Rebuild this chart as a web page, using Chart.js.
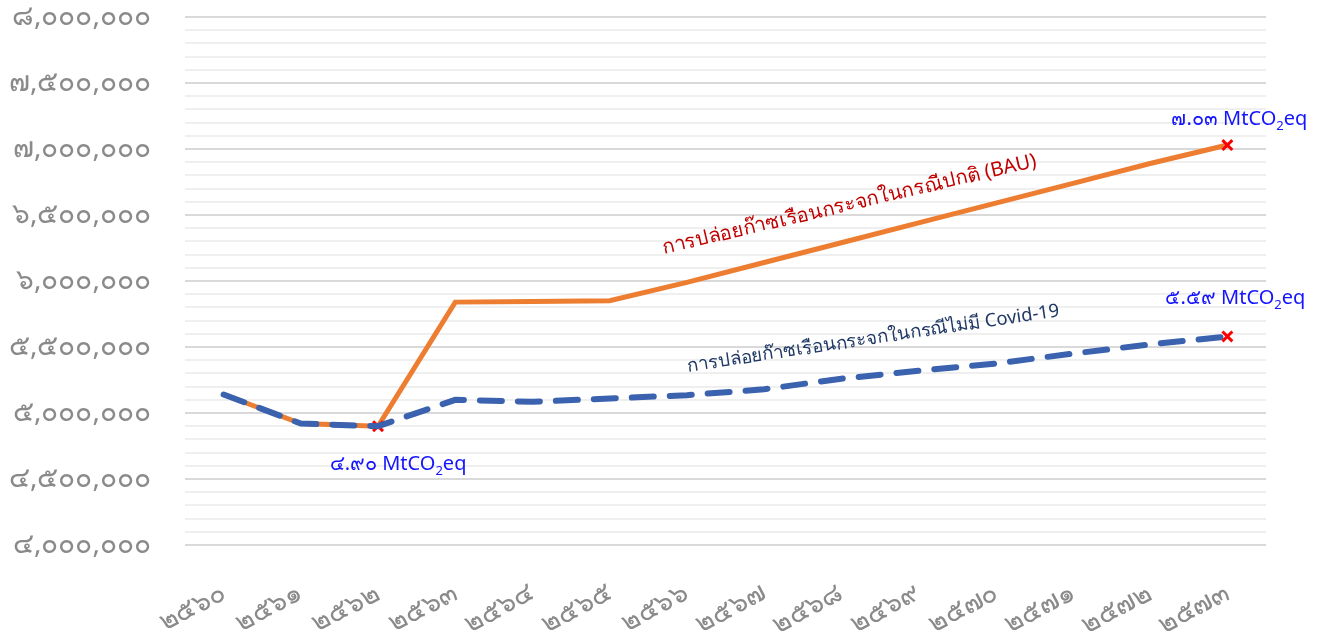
<!DOCTYPE html>
<html lang="th">
<head>
<meta charset="UTF-8">
<title>การปล่อยก๊าซเรือนกระจก</title>
<script src="https://cdn.jsdelivr.net/npm/chart.js"></script>
<style>
  html, body { margin: 0; padding: 0; background: #fff; }
  #wrap { width: 1324px; height: 631px; position: relative; }
</style>
</head>
<body>
<div id="wrap"><canvas id="chart"></canvas></div>
<script>
  // ปี พ.ศ.
  const years = [2560, 2561, 2562, 2563, 2564, 2565, 2566, 2567, 2568, 2569, 2570, 2571, 2572, 2573];
  // กรณีปกติ (BAU)
  const bauValues = [5140000, 4920000, 4900000, 5840000, 5845000, 5850000, 5990000, 6140000, 6290000, 6440000, 6590000, 6740000, 6890000, 7030000];
  // กรณีไม่มี Covid-19
  const noCovidValues = [5140000, 4920000, 4900000, 5100000, 5085000, 5110000, 5135000, 5180000, 5260000, 5320000, 5375000, 5450000, 5520000, 5580000];
  // จุดที่มีเครื่องหมาย x
  const bauMarks = [2, 13];
  const noCovidMarks = [13];
  // ป้ายกำกับ
  const bauLabel = 'การปล่อยก๊าซเรือนกระจกในกรณีปกติ (BAU)';
  const noCovidLabel = 'การปล่อยก๊าซเรือนกระจกในกรณีไม่มี Covid-19';
  const valueNotes = [
    { series: 'bau', index: 2, num: '๔.๙๐' },
    { series: 'bau', index: 13, num: '๗.๐๓' },
    { series: 'noCovid', index: 13, num: '๕.๕๙' }
  ];

  const thaiDigits = ['๐', '๑', '๒', '๓', '๔', '๕', '๖', '๗', '๘', '๙'];
  function toThai(s) {
    return String(s).replace(/[0-9]/g, d => thaiDigits[+d]);
  }

  const FONT = "'Noto Sans', Tahoma, sans-serif";

  // วาดข้อความ "x.xx MtCO2eq" และป้ายชื่อเส้น
  const notesPlugin = {
    id: 'notes',
    afterDatasetsDraw(chart) {
      const ctx = chart.ctx;
      const xs = chart.scales.x, ys = chart.scales.y;
      const src = { bau: bauValues, noCovid: noCovidValues };
      const offs = [[20, 38], [12, -26], [8, -38]];

      valueNotes.forEach((n, i) => {
        const px = xs.getPixelForValue(n.index) + offs[i][0];
        const py = ys.getPixelForValue(src[n.series][n.index]) + offs[i][1];
        ctx.save();
        ctx.fillStyle = '#1414ff';
        ctx.textBaseline = 'middle';
        const big = '20px ' + FONT, small = '13px ' + FONT;
        ctx.font = big;
        const a = n.num + ' MtCO', w1 = ctx.measureText(a).width;
        const w3 = ctx.measureText('eq').width;
        ctx.font = small;
        const w2 = ctx.measureText('2').width;
        let x = px - (w1 + w2 + w3) / 2;
        ctx.font = big;
        ctx.fillText(a, x, py);
        ctx.font = small;
        ctx.fillText('2', x + w1, py + 7);
        ctx.font = big;
        ctx.fillText('eq', x + w1 + w2, py);
        ctx.restore();
      });

      // ป้ายชื่อเส้นแบบเอียง
      const drawRot = (text, color, size, i, yv, dx, dy, angle) => {
        ctx.save();
        ctx.translate(xs.getPixelForValue(i) + dx, ys.getPixelForValue(yv) + dy);
        ctx.rotate(angle * Math.PI / 180);
        ctx.font = size + 'px ' + FONT;
        ctx.fillStyle = color;
        ctx.textAlign = 'center';
        ctx.textBaseline = 'middle';
        ctx.fillText(text, 0, 0);
        ctx.restore();
      };
      drawRot(bauLabel, '#c00000', 20, 8, bauValues[8], 8, -38, -13.2);
      drawRot(noCovidLabel, '#1f3864', 18.5, 8, noCovidValues[8], 32, -40, -8.5);
    }
  };

  const gridColor = c => (c.tick && c.tick.value % 500000 === 0) ? '#d9d9d9' : '#efefef';

  new Chart(document.getElementById('chart'), {
    type: 'line',
    data: {
      labels: years.map(toThai),
      datasets: [
        {
          label: noCovidLabel,
          data: noCovidValues,
          borderColor: '#3a62ae',
          borderWidth: 6,
          borderDash: [22, 16],
          borderCapStyle: 'round',
          tension: 0,
          order: 0,
          pointStyle: 'crossRot',
          pointRadius: noCovidValues.map((v, i) => noCovidMarks.includes(i) ? 7 : 0),
          pointBorderColor: '#ff0000',
          pointBorderWidth: 3
        },
        {
          label: bauLabel,
          data: bauValues,
          borderColor: '#ed7d31',
          borderWidth: 5,
          tension: 0,
          order: 1,
          pointStyle: 'crossRot',
          pointRadius: bauValues.map((v, i) => bauMarks.includes(i) ? 7 : 0),
          pointBorderColor: '#ff0000',
          pointBorderWidth: 3
        }
      ]
    },
    options: {
      responsive: true,
      maintainAspectRatio: false,
      animation: false,
      layout: { padding: { top: 0, right: 58, left: 0, bottom: 0 } },
      plugins: {
        legend: { display: false },
        tooltip: { enabled: false }
      },
      scales: {
        x: {
          offset: true,
          grid: { display: false },
          border: { display: false },
          ticks: {
            color: '#8a8a8a',
            font: { size: 27, family: FONT },
            minRotation: 28,
            maxRotation: 28,
            padding: 24
          },
          afterFit(s) { s.height = 86; }
        },
        y: {
          min: 4000000,
          max: 8000000,
          border: { display: false },
          grid: { color: gridColor, lineWidth: 2, drawTicks: false },
          ticks: {
            stepSize: 100000,
            autoSkip: false,
            color: '#8a8a8a',
            font: { size: 28, family: FONT },
            padding: 34,
            callback: v => v % 500000 === 0 ? toThai(v.toLocaleString('en-US')) : ''
          },
          afterFit(s) {
            s.width = 185;
            s.paddingTop = 17;
          }
        }
      }
    },
    plugins: [notesPlugin]
  });
</script>
</body>
</html>
